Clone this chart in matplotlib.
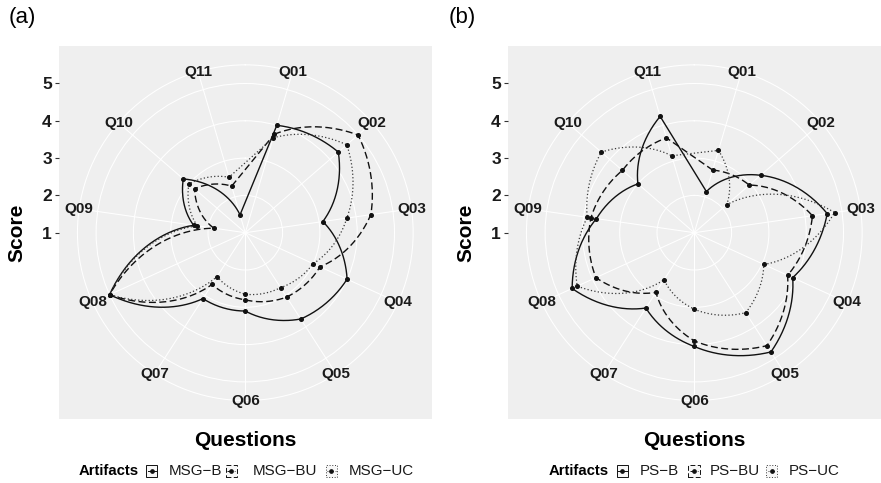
import numpy as np
import matplotlib
matplotlib.use("Agg")
import matplotlib.pyplot as plt
from matplotlib.patches import Rectangle
from matplotlib.lines import Line2D

# ---- data -------------------------------------------------------------
questions = ["Q01", "Q02", "Q03", "Q04", "Q05", "Q06",
             "Q07", "Q08", "Q09", "Q10", "Q11"]
score_ticks = [1, 2, 3, 4, 5]

msg_labels = ["MSG\u2212B", "MSG\u2212BU", "MSG\u2212UC"]
msg_b = [4.0, 4.3, 3.1, 4.0, 3.75, 3.1, 3.1, 5.0, 2.4, 3.2, 1.5]
msg_bu = [3.75, 5.0, 4.4, 3.2, 3.05, 2.8, 2.65, 5.0, 1.85, 2.8, 2.3]
msg_uc = [3.65, 4.6, 3.75, 3.0, 2.75, 2.65, 2.4, 5.0, 2.3, 3.0, 2.55]

ps_labels = ["PS\u2212B", "PS\u2212BU", "PS\u2212UC"]
ps_b = [2.15, 3.35, 4.6, 3.9, 4.8, 4.05, 3.4, 4.6, 3.65, 3.0, 4.25]
ps_bu = [2.75, 2.95, 4.2, 3.75, 4.6, 3.9, 2.9, 3.9, 3.8, 3.55, 3.65]
ps_uc = [3.3, 2.15, 4.8, 3.05, 3.55, 3.05, 2.5, 4.45, 3.9, 4.3, 3.15]

# ---- styling ----------------------------------------------------------
plt.rcParams["font.family"] = ["Liberation Sans", "DejaVu Sans"]

W, H = 881, 483
fig = plt.figure(figsize=(W / 100, H / 100), dpi=100)

LINE_STYLES = [
    dict(ls="-", lw=1.0, color="#111111"),
    dict(ls=(0, (5, 2.5)), lw=1.0, color="#111111"),
    dict(ls=(0, (1, 1.8)), lw=0.9, color="#3a3a3a"),
]

R_MIN, R_MAX = 1.0, 5.0
R_OUT = R_MIN + (R_MAX - R_MIN) * 0.45 / 0.4   # outer ring of the polar grid
N = len(questions)
THETA = (np.arange(N) + 0.5) * 2 * np.pi / N


def fx(px):
    return px / W


def fy(py):
    return 1 - py / H


def munch(values, steps=60):
    """Polar path: linear in (theta, r) between questions, straight chord to close."""
    v = np.asarray(values, dtype=float)
    ts, rs = [], []
    f = np.linspace(0, 1, steps, endpoint=False)
    for i in range(N - 1):
        ts.append(THETA[i] + f * (THETA[i + 1] - THETA[i]))
        rs.append(v[i] + f * (v[i + 1] - v[i]))
    x0, y0 = (v[-1] - R_MIN) * np.sin(THETA[-1]), (v[-1] - R_MIN) * np.cos(THETA[-1])
    x1, y1 = (v[0] - R_MIN) * np.sin(THETA[0]), (v[0] - R_MIN) * np.cos(THETA[0])
    g = np.linspace(0, 1, steps)
    xs, ys = x0 + g * (x1 - x0), y0 + g * (y1 - y0)
    ts.append(np.arctan2(xs, ys))
    rs.append(R_MIN + np.hypot(xs, ys))
    return np.unwrap(np.concatenate(ts)), np.concatenate(rs)


def radar_panel(cx, cy, size, series, tag, tag_xy):
    left, top = cx - size / 2, cy - size / 2
    rect = [fx(left), fy(top + size), size / W, size / H]

    # square grey panel carrying the score axis
    bg = fig.add_axes(rect)
    bg.set_facecolor("#EFEFEF")
    for s in bg.spines.values():
        s.set_visible(False)
    half = (R_MAX - R_MIN) / 0.4 * 0.5
    bg.set_ylim(R_MIN - half, R_MIN + half)
    bg.set_xlim(-half, half)
    bg.set_xticks([])
    bg.set_yticks(score_ticks)
    bg.set_yticklabels([str(t) for t in score_ticks], fontsize=12.5,
                       fontweight="bold", color="#1a1a1a")
    bg.tick_params(axis="y", length=3, width=0.8, color="#333333", pad=2)

    # polar grid and lines
    inner = 0.9 * size
    prect = [fx(cx - inner / 2), fy(cy + inner / 2), inner / W, inner / H]
    pax = fig.add_axes(prect, projection="polar")
    pax.set_facecolor("none")
    pax.set_theta_zero_location("N")
    pax.set_theta_direction(-1)
    pax.set_rlim(R_MIN, R_OUT)
    pax.set_rticks([2, 3, 4, 5])
    pax.set_yticklabels([])
    pax.set_xticks(THETA)
    pax.set_xticklabels([])
    pax.tick_params(length=0)
    pax.grid(True, color="white", lw=0.75)
    pax.spines["polar"].set_color("white")
    pax.spines["polar"].set_linewidth(0.75)

    for vals, st in zip(series, LINE_STYLES):
        t, r = munch(vals)
        pax.plot(t, r, ls=st["ls"], lw=st["lw"], color=st["color"],
                 solid_capstyle="butt", dash_capstyle="butt", zorder=3)
        pax.plot(THETA, vals, ls="none", marker="o", ms=2.6,
                 color="#111111", zorder=4)

    for th, q in zip(THETA, questions):
        pax.text(th, R_OUT, q, ha="center", va="center", fontsize=11,
                 fontweight="bold", color="#1a1a1a", clip_on=False)

    fig.text(fx(left - 42), fy(cy), "Score", rotation=90, ha="center",
             va="center", fontsize=15, fontweight="bold", color="black")
    fig.text(fx(cx), fy(445.5), "Questions", ha="center", va="baseline",
             fontsize=15, fontweight="bold", color="black")
    fig.text(fx(tag_xy[0]), fy(tag_xy[1]), tag, ha="left", va="center",
             fontsize=16, color="black")
    return pax


def legend_row(title_x, y, key_xs, text_xs, labels):
    fig.text(fx(title_x), fy(y), "Artifacts", ha="left", va="center",
             fontsize=10.7, fontweight="bold", color="black")
    k = 11.3
    for kx, tx, lab, st in zip(key_xs, text_xs, labels, LINE_STYLES):
        fig.add_artist(Rectangle((fx(kx), fy(y + k / 2)), k / W, k / H,
                                 transform=fig.transFigure, facecolor="#F7F7F7",
                                 edgecolor=st["color"], lw=0.7, ls=st["ls"]))
        fig.add_artist(Line2D([fx(kx + 1.5), fx(kx + k - 1.5)], [fy(y), fy(y)],
                              transform=fig.transFigure, color=st["color"],
                              lw=0.7, ls=st["ls"]))
        fig.add_artist(Line2D([fx(kx + k / 2)], [fy(y)], transform=fig.transFigure,
                              marker="o", ms=2.4, color="#111111", ls="none"))
        fig.text(fx(tx), fy(y), lab, ha="left", va="center", fontsize=10.9,
                 color="#1a1a1a")


SIZE = 373
radar_panel(245.3, 232.7, SIZE, [msg_b, msg_bu, msg_uc], "(a)", (9, 18))
radar_panel(694.3, 232.7, SIZE, [ps_b, ps_bu, ps_uc], "(b)", (449, 18))

legend_row(78.3, 471, [146, 225.7, 325.7], [168.3, 253, 348.3], msg_labels)
legend_row(548.3, 471, [616.7, 688.3, 766], [640, 710, 788.3], ps_labels)

fig.savefig("out.png", dpi=100)
